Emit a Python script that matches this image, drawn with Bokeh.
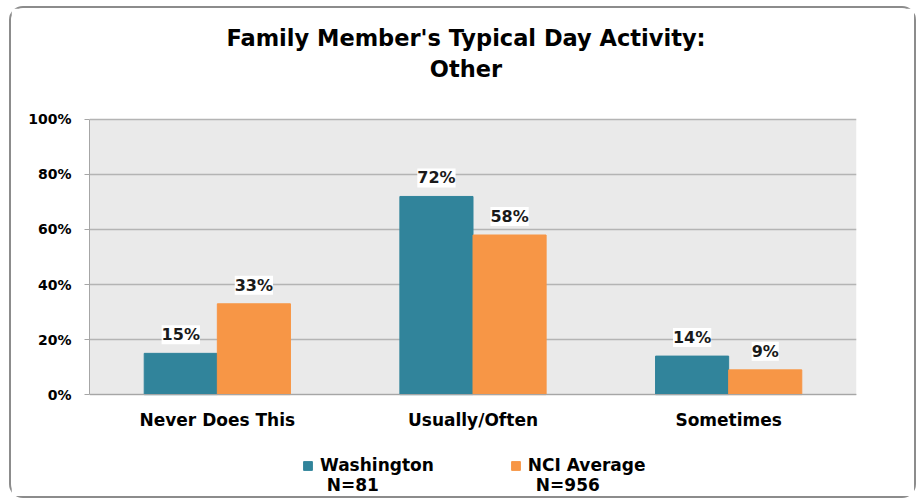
from bokeh.plotting import figure
from bokeh.core.properties import value
from bokeh.models import (ColumnDataSource, FactorRange, LabelSet, Label, Legend, LegendItem,
                          PrintfTickFormatter, FixedTicker, BoxAnnotation)
from bokeh.transform import dodge
from bokeh.embed import file_html
from bokeh.resources import INLINE

categories = ["Never Does This", "Usually/Often", "Sometimes"]
washington = [15, 72, 14]
nci_average = [33, 58, 9]
series_names = ["Washington", "NCI Average"]
series_n = ["N=81", "N=956"]
title_lines = ["Family Member's Typical Day Activity:", "Other"]
y_ticks = [0, 20, 40, 60, 80, 100]

FONT = "DejaVu Sans"
TEAL = "#31849B"
ORANGE = "#F79646"

# layout (pixels inside the bordered canvas)
W, H = 907, 492
BORDER = 2
CH = H - 2 * BORDER
TOP_PX, ZERO_PX = 110, 383          # canvas y of 100% and of 0%
PX_PER = (ZERO_PX - TOP_PX) / 100.0
Y_END = 100 + TOP_PX / PX_PER
Y_START = -(CH - ZERO_PX) / PX_PER
LEFT_PX, RIGHT_PAD = 78, 62
FRAME_W = W - 2 * BORDER - LEFT_PX - RIGHT_PAD


def y_at(px):
    return Y_END - px / PX_PER


def x_at(px):
    return (px - LEFT_PX) / FRAME_W * len(categories)


src = ColumnDataSource(dict(
    cat=categories,
    wa=washington,
    nci=nci_average,
    wa_lbl=[f"{v}%" for v in washington],
    nci_lbl=[f"{v}%" for v in nci_average],
))

p = figure(x_range=FactorRange(*categories), y_range=(Y_START, Y_END),
           width=W, height=H, output_backend="svg", toolbar_location=None,
           min_border_left=LEFT_PX, min_border_right=RIGHT_PAD, min_border_bottom=0,
           min_border_top=0, background_fill_color="white",
           border_fill_color="white")
p.styles = {"border": f"{BORDER}px solid #8C8C8C", "border-radius": "14px",
            "margin-left": "9px", "margin-top": "6px"}
p.outline_line_color = None

p.add_layout(BoxAnnotation(bottom=0, top=100, fill_color="#EAEAEA", fill_alpha=1.0,
                           line_color=None, level="image"))

for txt, px in zip(title_lines, (29, 60)):
    p.add_layout(Label(x=len(categories) / 2, y=y_at(px), x_offset=-7, text=txt,
                       text_align="center", text_baseline="middle", text_font=FONT,
                       text_font_style="bold", text_font_size="22.5px",
                       text_color="black"))

bw = 0.286
r1 = p.vbar(x=dodge("cat", -bw / 2, range=p.x_range), top="wa", width=bw, source=src,
            fill_color=TEAL, line_color=TEAL)
r2 = p.vbar(x=dodge("cat", bw / 2, range=p.x_range), top="nci", width=bw, source=src,
            fill_color=ORANGE, line_color=ORANGE)

for fld, lbl, off in (("wa", "wa_lbl", -bw / 2), ("nci", "nci_lbl", bw / 2)):
    ls = LabelSet(x=dodge("cat", off, range=p.x_range), y=fld, text=lbl, source=src,
                  y_offset=9, text_align="center", text_baseline="bottom",
                  text_font=value(FONT), text_font_style="bold", text_font_size="16px",
                  text_color="#1a1a1a", background_fill_color="white",
                  background_fill_alpha=1.0)
    p.add_layout(ls)

ticker = FixedTicker(ticks=y_ticks)
p.yaxis.ticker = ticker
p.ygrid.ticker = ticker
p.yaxis.bounds = (0, 100)
p.yaxis.formatter = PrintfTickFormatter(format="%d%%")
p.yaxis.major_label_text_font = FONT
p.yaxis.major_label_text_font_style = "bold"
p.yaxis.major_label_text_font_size = "14px"
p.yaxis.major_label_text_color = "black"
p.yaxis.major_label_standoff = 13
p.yaxis.axis_line_color = "#A6A6A6"
p.yaxis.major_tick_line_color = "#A6A6A6"
p.yaxis.major_tick_out = 5
p.yaxis.major_tick_in = 0
p.yaxis.minor_tick_line_color = None

p.xaxis.fixed_location = 0
p.xaxis.major_label_text_font = FONT
p.xaxis.major_label_text_font_style = "bold"
p.xaxis.major_label_text_font_size = "17px"
p.xaxis.major_label_text_color = "black"
p.xaxis.axis_line_color = "#A6A6A6"
p.xaxis.major_tick_line_color = None
p.xaxis.major_tick_out = 0
p.xaxis.major_label_standoff = 15

p.xgrid.grid_line_color = None
p.ygrid.grid_line_color = "#B4B4B4"
p.ygrid.grid_line_width = 1.5

legend = Legend(items=[LegendItem(label=series_names[0], renderers=[r1]),
                       LegendItem(label=series_names[1], renderers=[r2])],
                orientation="horizontal", location=(213, 25),
                label_text_font=FONT, label_text_font_style="bold",
                label_text_font_size="17px", label_text_color="black",
                glyph_width=11, glyph_height=11, label_standoff=7, spacing=76,
                border_line_color=None, background_fill_alpha=0, margin=0,
                padding=0)
p.add_layout(legend, "center")

for txt, px in zip(series_n, (314, 522)):
    p.add_layout(Label(x=x_at(px), y=y_at(473), text=txt, text_align="left",
                       text_baseline="middle", text_font=FONT,
                       text_font_style="bold", text_font_size="17px",
                       text_color="black"))

open("out.html", "w").write(file_html(p, INLINE))
